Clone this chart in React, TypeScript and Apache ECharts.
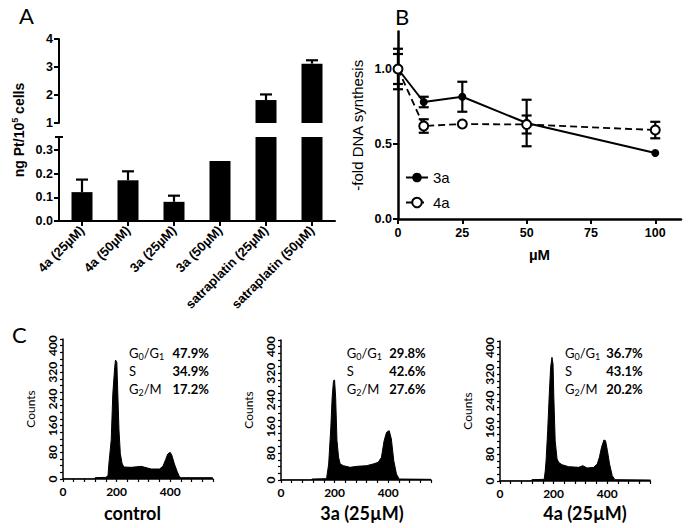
import React, { useEffect, useRef } from "react";
import * as echarts from "echarts";

// ---------- Panel A data ----------
const ptCategories = ["4a (25µM)", "4a (50µM)", "3a (25µM)", "3a (50µM)", "satraplatin (25µM)", "satraplatin (50µM)"];
const ptValues = [0.122, 0.172, 0.081, 0.254, 1.82, 3.12];
const ptErrors = [0.053, 0.038, 0.026, 0, 0.2, 0.12];

// ---------- Panel B data ----------
const doses = [0, 10, 25, 50, 100];
const dna3a = [1.0, 0.78, 0.815, 0.64, 0.44];
const err3a = [0.135, 0.035, 0.1, 0.155, 0];
const dna4a = [1.0, 0.62, 0.633, 0.63, 0.593];
const err4a = [0.1, 0.045, 0, 0.06, 0.055];

// ---------- Panel C data (DNA content channel, counts) ----------
const ctrlX = [0, 115, 120, 160, 168, 171, 180, 186, 193, 196, 201, 205, 209, 214, 220, 227, 255, 292, 329, 360, 373, 383, 391, 400, 406, 416, 426, 435, 441, 559];
const ctrlY = [0, 0, 4, 5, 10, 43, 117, 256, 335, 357, 350, 246, 147, 77, 48, 36, 35, 38, 30, 30, 38, 58, 75, 80, 72, 45, 23, 6, 4, 4];
const c3aX = [0, 112, 116, 170, 178, 186, 191, 196, 200, 204, 209, 215, 221, 233, 258, 283, 320, 344, 363, 375, 385, 394, 404, 412, 421, 431, 441, 560];
const c3aY = [0, 0, 3, 4, 48, 158, 248, 298, 300, 248, 118, 68, 48, 43, 38, 41, 43, 48, 53, 68, 118, 143, 148, 123, 58, 18, 3, 2];
const c4aX = [0, 115, 119, 165, 169, 172, 178, 184, 189, 194, 198, 201, 206, 213, 219, 231, 256, 294, 309, 325, 350, 363, 371, 379, 388, 394, 401, 409, 419, 429, 562];
const c4aY = [0, 0, 4, 5, 31, 61, 151, 261, 341, 371, 351, 251, 121, 66, 56, 49, 43, 41, 46, 39, 41, 51, 71, 101, 123, 121, 91, 51, 16, 4, 3];
const phaseLabels = ["{n|G}{s|0}{n|/G}{s|1}", "{n|S}", "{n|G}{s|2}{n|/M}"];
const pctControl = ["47.9%", "34.9%", "17.2%"];
const pct3a = ["29.8%", "42.6%", "27.6%"];
const pct4a = ["36.7%", "43.1%", "20.2%"];
const histTitles = ["control", "3a (25µM)", "4a (25µM)"];

const ARIAL = "'Liberation Sans', Arial, sans-serif";
const CAL = "Lato, 'Noto Sans', sans-serif";

function errRender(capHalf: number, both: boolean) {
  return (params: any, api: any) => {
    const x = api.value(0);
    const y = api.value(1);
    const e = api.value(2);
    if (!e) return null;
    const top = api.coord([x, y + e]);
    const bot = both ? api.coord([x, y - e]) : api.coord([x, y]);
    const style = { stroke: "#000", lineWidth: 2.2 };
    const children: any[] = [
      { type: "line", shape: { x1: top[0], y1: top[1], x2: bot[0], y2: bot[1] }, style },
      { type: "line", shape: { x1: top[0] - capHalf, y1: top[1], x2: top[0] + capHalf, y2: top[1] }, style },
    ];
    if (both) children.push({ type: "line", shape: { x1: bot[0] - capHalf, y1: bot[1], x2: bot[0] + capHalf, y2: bot[1] }, style });
    return { type: "group", children };
  };
}

export default function App() {
  const ref = useRef<HTMLDivElement>(null);
  useEffect(() => {
    if (!ref.current) return;
    const chart = echarts.init(ref.current, undefined, { renderer: "svg" });

    const blackAxisLine = (w: number) => ({ show: true, lineStyle: { color: "#000", width: w } });

    const histGrids = [
      { left: 63, top: 339, width: 150, height: 140 },
      { left: 281, top: 340, width: 150, height: 140 },
      { left: 500, top: 341, width: 150, height: 140 },
    ];
    const histData = [
      ctrlX.map((x, i) => [x, ctrlY[i]]),
      c3aX.map((x, i) => [x, c3aY[i]]),
      c4aX.map((x, i) => [x, c4aY[i]]),
    ];
    const pcts = [pctControl, pct3a, pct4a];

    const grids: any[] = [
      { left: 59, top: 39, width: 276, height: 84, outerBoundsMode: "none" },
      { left: 59, top: 137, width: 276, height: 84, outerBoundsMode: "none" },
      { left: 398, top: 31.5, width: 283, height: 187.5, outerBoundsMode: "none" },
      ...histGrids.map((g) => ({ ...g, outerBoundsMode: "none" })),
    ];

    const xAxes: any[] = [
      { gridIndex: 0, type: "category", data: ptCategories, show: false },
      {
        gridIndex: 1, type: "category", data: ptCategories,
        axisLine: blackAxisLine(2),
        axisTick: { show: true, alignWithLabel: true, length: 5, lineStyle: { color: "#000", width: 2 } },
        axisLabel: { interval: 0, rotate: 45, margin: 7, color: "#000", fontFamily: ARIAL, fontWeight: "bold", fontSize: 13 },
        splitLine: { show: false },
      },
      {
        gridIndex: 2, type: "value", min: 0, max: 110, interval: 25,
        axisLine: blackAxisLine(2.5),
        axisTick: { show: true, length: 5, lineStyle: { color: "#000", width: 2 } },
        axisLabel: { color: "#000", fontFamily: ARIAL, fontWeight: "bold", fontSize: 12.5, margin: 7, showMaxLabel: false },
        splitLine: { show: false },
        name: "µM", nameLocation: "middle", nameGap: 28,
        nameTextStyle: { color: "#000", fontFamily: ARIAL, fontWeight: "bold", fontSize: 15 },
      },
      ...histGrids.map((_, i) => ({
        gridIndex: 3 + i, type: "value", min: 0, max: 560, interval: 40,
        axisLine: blackAxisLine(1.5),
        axisTick: { show: true, length: 3, lineStyle: { color: "#000", width: 1.2 } },
        axisLabel: {
          color: "#000", fontFamily: CAL, fontWeight: "bold", fontSize: 12, margin: 6,
          formatter: (v: number) => (v % 200 === 0 && v < 560 ? String(v) : ""),
        },
        splitLine: { show: false },
      })),
    ];

    const yAxes: any[] = [
      {
        gridIndex: 0, type: "value", min: 1, max: 4, interval: 1,
        axisLine: blackAxisLine(2),
        axisTick: { show: true, length: 5, lineStyle: { color: "#000", width: 2 } },
        axisLabel: { color: "#000", fontFamily: ARIAL, fontWeight: "bold", fontSize: 12.5, margin: 6 },
        splitLine: { show: false },
      },
      {
        gridIndex: 1, type: "value", min: 0, max: 0.355, interval: 0.1,
        axisLine: blackAxisLine(2),
        axisTick: { show: true, length: 5, lineStyle: { color: "#000", width: 2 } },
        axisLabel: { color: "#000", fontFamily: ARIAL, fontWeight: "bold", fontSize: 12.5, margin: 6, showMaxLabel: false,
          formatter: (v: number) => (v > 0.35 ? "" : v.toFixed(1)) },
        splitLine: { show: false },
      },
      {
        gridIndex: 2, type: "value", min: 0, max: 1.25, interval: 0.5,
        axisLine: blackAxisLine(2.5),
        axisTick: { show: true, length: 5, lineStyle: { color: "#000", width: 2 } },
        axisLabel: { color: "#000", fontFamily: ARIAL, fontWeight: "bold", fontSize: 12.5, margin: 6, showMaxLabel: false,
          formatter: (v: number) => (v > 1.2 ? "" : v.toFixed(1)) },
        splitLine: { show: false },
        name: "-fold DNA synthesis", nameLocation: "middle", nameGap: 33,
        nameTextStyle: { color: "#000", fontFamily: ARIAL, fontSize: 15 },
      },
      ...histGrids.map((_, i) => ({
        gridIndex: 3 + i, type: "value", min: 0, max: 420, interval: 20,
        axisLine: blackAxisLine(1.5),
        axisTick: { show: true, length: 3, lineStyle: { color: "#000", width: 1.2 } },
        axisLabel: {
          color: "#000", fontFamily: CAL, fontWeight: "bold", fontSize: 12, margin: 5, rotate: 90,
          formatter: (v: number) => (v % 80 === 0 ? String(v) : ""),
        },
        splitLine: { show: false },
        name: "Counts", nameLocation: "middle", nameGap: 27,
        nameTextStyle: { color: "#000", fontFamily: CAL, fontSize: 12 },
      })),
    ];

    const upperBars = ptValues.map((v) => (v > 1 ? v : "-"));
    const upperErr = ptValues.map((v, i) => [i, v, ptErrors[i]]).filter((d) => d[1] > 1);
    const lowerErr = ptValues.map((v, i) => [i, v, ptErrors[i]]).filter((d) => d[1] + d[2] < 1);

    const series: any[] = [
      { type: "bar", xAxisIndex: 0, yAxisIndex: 0, data: upperBars, barWidth: 21, clip: true, itemStyle: { color: "#000" } },
      { type: "custom", xAxisIndex: 0, yAxisIndex: 0, data: upperErr, renderItem: errRender(6, false), encode: { x: 0, y: 1 }, z: 3 },
      { type: "bar", xAxisIndex: 1, yAxisIndex: 1, data: ptValues, barWidth: 21, clip: true, itemStyle: { color: "#000" } },
      { type: "custom", xAxisIndex: 1, yAxisIndex: 1, data: lowerErr, renderItem: errRender(6, false), encode: { x: 0, y: 1 }, z: 3 },
      { type: "custom", xAxisIndex: 2, yAxisIndex: 2, data: doses.map((d, i) => [d, dna3a[i], err3a[i]]), renderItem: errRender(5, true), encode: { x: 0, y: 1 }, z: 1 },
      { type: "custom", xAxisIndex: 2, yAxisIndex: 2, data: doses.map((d, i) => [d, dna4a[i], err4a[i]]), renderItem: errRender(5, true), encode: { x: 0, y: 1 }, z: 1 },
      {
        name: "3a", type: "line", xAxisIndex: 2, yAxisIndex: 2, data: doses.map((d, i) => [d, dna3a[i]]),
        symbol: "circle", symbolSize: 8, itemStyle: { color: "#000" }, lineStyle: { color: "#000", width: 2 }, z: 5,
      },
      {
        name: "4a", type: "line", xAxisIndex: 2, yAxisIndex: 2, data: doses.map((d, i) => [d, dna4a[i]]),
        symbol: "circle", symbolSize: 9, itemStyle: { color: "#fff", borderColor: "#000", borderWidth: 2 },
        lineStyle: { color: "#000", width: 1.8, type: [7, 4] }, z: 6,
      },
      ...histData.map((d, i) => ({
        type: "line", xAxisIndex: 3 + i, yAxisIndex: 3 + i, data: d, showSymbol: false, symbol: "none",
        lineStyle: { color: "#000", width: 1 }, areaStyle: { color: "#000", opacity: 1 }, clip: true,
      })),
    ];

    const graphics: any[] = [
      { type: "text", left: 19, top: 4, style: { text: "A", font: `22px ${CAL}`, fill: "#000" } },
      { type: "text", left: 395, top: 5, style: { text: "B", font: `22px ${CAL}`, fill: "#000" } },
      { type: "text", left: 12, top: 323, style: { text: "C", font: `22px ${CAL}`, fill: "#000" } },
      // axis break cap on lower y axis of panel A
      { type: "line", shape: { x1: 55, y1: 137, x2: 63, y2: 137 }, style: { stroke: "#000", lineWidth: 2 } },
      {
        type: "text", x: 18, y: 130, rotation: Math.PI / 2,
        style: {
          text: "{t|ng Pt/10}{p|5}{t| cells}", align: "center", verticalAlign: "middle",
          rich: {
            t: { fontFamily: ARIAL, fontWeight: "bold", fontSize: 14, lineHeight: 16, verticalAlign: "bottom", fill: "#000" },
            p: { fontFamily: ARIAL, fontWeight: "bold", fontSize: 9, lineHeight: 9, verticalAlign: "top", fill: "#000" },
          },
        },
      },
    ];

    const labelX = [129, 346.7, 565];
    const pctX = [172.5, 389.3, 606.3];
    const rowY = [353, 371, 389];
    const titleX = [132.5, 362, 585];
    histGrids.forEach((g, h) => {
      phaseLabels.forEach((lab, r) => {
        graphics.push({
          type: "text", x: labelX[h], y: rowY[r],
          style: {
            text: lab, align: "left", verticalAlign: "middle",
            rich: {
              n: { fontFamily: CAL, fontSize: 13, lineHeight: 16, verticalAlign: "middle", fill: "#000" },
              s: { fontFamily: CAL, fontSize: 9, lineHeight: 10, verticalAlign: "bottom", fill: "#000" },
            },
          },
        });
        graphics.push({
          type: "text", x: pctX[h], y: rowY[r],
          style: { text: pcts[h][r], align: "left", verticalAlign: "middle", font: `bold 13px ${CAL}`, fill: "#000" },
        });
      });
      graphics.push({
        type: "text", x: titleX[h], y: 513,
        style: { text: histTitles[h], align: "center", verticalAlign: "middle", font: `bold 18px ${CAL}`, fill: "#000" },
      });
    });

    chart.setOption({
      animation: false,
      backgroundColor: "#fff",
      grid: grids,
      xAxis: xAxes,
      yAxis: yAxes,
      series,
      legend: {
        orient: "vertical", left: 400, top: 165, itemWidth: 22, itemHeight: 12, itemGap: 10,
        data: ["3a", "4a"],
        textStyle: { color: "#000", fontFamily: ARIAL, fontSize: 15 },
      },
      graphic: graphics,
    });
    return () => chart.dispose();
  }, []);
  return <div ref={ref} style={{ position: "fixed", left: 0, top: 0, width: 688, height: 528, background: "#fff" }} />;
}
